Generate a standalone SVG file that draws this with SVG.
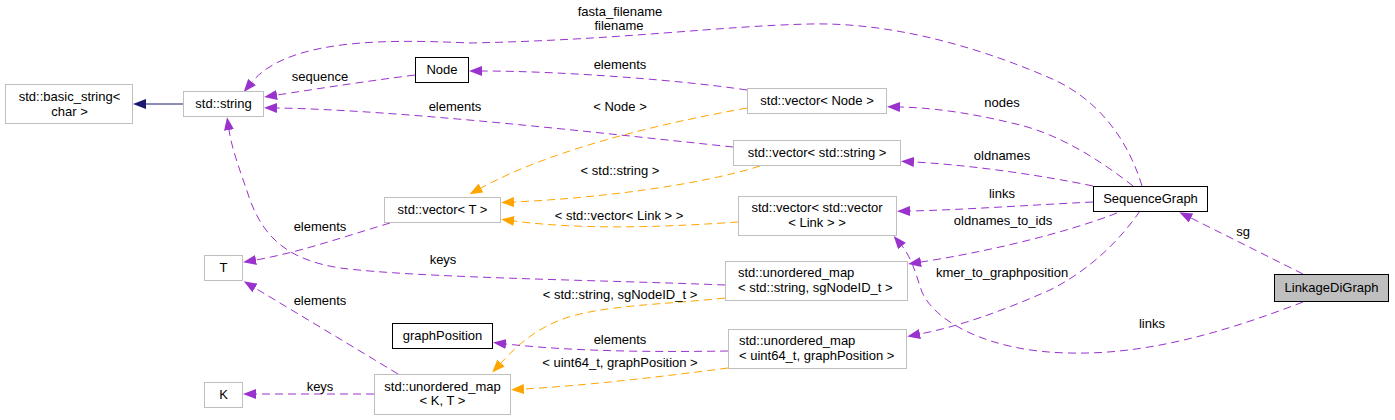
<svg xmlns="http://www.w3.org/2000/svg" width="1395" height="420" viewBox="0 0 1395 420">
<style>
text{font-family:"Liberation Sans",Arial,sans-serif;font-size:13px;fill:#000}
.c{text-anchor:middle}
.l{text-anchor:start}
.g{fill:#fff;stroke:#bfbfbf;stroke-width:1}
.b{fill:#fff;stroke:#000;stroke-width:1}
.h{fill:#bfbfbf;stroke:#000;stroke-width:1}
.e{fill:none;stroke:#9a32cd;stroke-width:1;stroke-dasharray:8,5}
.o{fill:none;stroke:#ffa500;stroke-width:1;stroke-dasharray:8,5}
.n{fill:none;stroke:#191970;stroke-width:1}
</style>
<defs>
<marker id="ap" viewBox="0 0 13 10" refX="0" refY="5" markerWidth="13" markerHeight="10" markerUnits="userSpaceOnUse" orient="auto"><path d="M0,0 L13,5 L0,10 z" fill="#9a32cd"/></marker>
<marker id="ao" viewBox="0 0 13 10" refX="0" refY="5" markerWidth="13" markerHeight="10" markerUnits="userSpaceOnUse" orient="auto"><path d="M0,0 L13,5 L0,10 z" fill="#ffa500"/></marker>
<marker id="an" viewBox="0 0 13 10" refX="0" refY="5" markerWidth="13" markerHeight="10" markerUnits="userSpaceOnUse" orient="auto"><path d="M0,0 L13,5 L0,10 z" fill="#191970"/></marker>
</defs>
<rect width="1395" height="420" fill="#fff"/>
<g id="connectors">
<path class="n" d="M183,104 L146,104" marker-end="url(#an)"/>
<path class="e" d="M415,75 C360,82 310,90 277,95" marker-end="url(#ap)"/>
<text class="c" x="320" y="81">sequence</text>
<path class="e" d="M1142,186 C1125,130 1090,95 1050,78 C990,52 900,22 810,24 C720,26 620,40 470,43 C400,40 290,36 252,82" marker-end="url(#ap)"/>
<text class="c" x="620" y="16">fasta_filename</text>
<text class="c" x="619" y="30">filename</text>
<path class="e" d="M747,90 C680,80 560,71 482,71" marker-end="url(#ap)"/>
<text class="c" x="620" y="69">elements</text>
<path class="e" d="M733,147 C600,133 400,110 277,108" marker-end="url(#ap)"/>
<text class="c" x="455" y="111">elements</text>
<path class="o" d="M747,108 C680,120 560,145 481,188" marker-end="url(#ao)"/>
<text class="c" x="620" y="111">&lt; Node &gt;</text>
<path class="o" d="M760,166 C700,185 600,198 514,202" marker-end="url(#ao)"/>
<text class="c" x="620" y="175">&lt; std::string &gt;</text>
<path class="o" d="M738,222 C680,226 590,231 514,221" marker-end="url(#ao)"/>
<text class="c" x="619" y="220">&lt; std::vector&lt; Link &gt; &gt;</text>
<path class="e" d="M1133,186 C1100,160 1060,135 1020,125 C980,115 940,108 900,107" marker-end="url(#ap)"/>
<text class="c" x="1002" y="107">nodes</text>
<path class="e" d="M1093,186 C1040,175 970,165 914,162" marker-end="url(#ap)"/>
<text class="c" x="1002" y="160">oldnames</text>
<path class="e" d="M1093,202 C1030,205 960,210 910,211" marker-end="url(#ap)"/>
<text class="c" x="1002" y="198">links</text>
<path class="e" d="M1117,213 C1060,235 980,253 921,262" marker-end="url(#ap)"/>
<text class="c" x="1003" y="225">oldnames_to_ids</text>
<path class="e" d="M1140,211 C1120,240 1090,270 1050,290 C1000,312 960,326 920,334" marker-end="url(#ap)"/>
<text class="c" x="1002" y="277">kmer_to_graphposition</text>
<path class="e" d="M1303,274 L1191,218" marker-end="url(#ap)"/>
<text class="c" x="1243" y="236">sg</text>
<path class="e" d="M1303,302 C1230,330 1150,355 1070,353 C990,352 935,322 922,292 C916,275 912,258 902,246" marker-end="url(#ap)"/>
<text class="c" x="1152" y="328">links</text>
<path class="e" d="M390,223 C340,238 300,252 256,260" marker-end="url(#ap)"/>
<text class="c" x="320" y="231">elements</text>
<path class="e" d="M725,285 C600,280 420,278 340,268 C290,260 265,240 250,200 C240,170 232,150 229,130" marker-end="url(#ap)"/>
<text class="c" x="443" y="264">keys</text>
<path class="e" d="M398,374 C350,345 300,315 255,288" marker-end="url(#ap)"/>
<text class="c" x="320" y="305">elements</text>
<path class="e" d="M374,394 L256,394" marker-end="url(#ap)"/>
<text class="c" x="320" y="391">keys</text>
<path class="o" d="M725,298 C660,305 600,305 560,320 C530,332 513,350 501,363" marker-end="url(#ao)"/>
<text class="c" x="620" y="299">&lt; std::string, sgNodeID_t &gt;</text>
<path class="o" d="M728,368 C660,377 580,386 524,389" marker-end="url(#ao)"/>
<text class="c" x="620" y="367">&lt; uint64_t, graphPosition &gt;</text>
<path class="e" d="M728,351 C660,352 580,352 506,344" marker-end="url(#ap)"/>
<text class="c" x="620" y="344">elements</text>
</g>
<g id="n_basic_string"><rect class="g" x="5.5" y="84.5" width="127" height="39"/><text class="c" x="69.5" y="101">std::basic_string&lt;</text><text class="c" x="69.5" y="116">char &gt;</text></g>
<g id="n_string"><rect class="g" x="183.5" y="91.5" width="80" height="25"/><text class="c" x="223.5" y="108">std::string</text></g>
<g id="n_Node"><rect class="b" x="415.5" y="57.5" width="53" height="25"/><text class="c" x="442" y="74">Node</text></g>
<g id="n_vector_Node"><rect class="g" x="747.5" y="88.5" width="139" height="25"/><text class="c" x="817" y="105">std::vector&lt; Node &gt;</text></g>
<g id="n_vector_string"><rect class="g" x="733.5" y="140.5" width="167" height="25"/><text class="c" x="817" y="157">std::vector&lt; std::string &gt;</text></g>
<g id="n_vector_T"><rect class="g" x="384.5" y="197.5" width="116" height="25"/><text class="c" x="442.5" y="214">std::vector&lt; T &gt;</text></g>
<g id="n_vector_vector_Link"><rect class="g" x="738.5" y="196.5" width="158" height="39"/><text class="c" x="817" y="212">std::vector&lt; std::vector</text><text class="c" x="817" y="227">&lt; Link &gt; &gt;</text></g>
<g id="n_umap_string"><rect class="g" x="725.5" y="261.5" width="182" height="39"/><text class="l" x="738" y="277">std::unordered_map</text><text class="l" x="738" y="292">&lt; std::string, sgNodeID_t &gt;</text></g>
<g id="n_umap_uint64"><rect class="g" x="728.5" y="329.5" width="178" height="39"/><text class="l" x="739" y="345">std::unordered_map</text><text class="l" x="739" y="360">&lt; uint64_t, graphPosition &gt;</text></g>
<g id="n_umap_KT"><rect class="g" x="374.5" y="374.5" width="136" height="40"/><text class="c" x="442.5" y="391">std::unordered_map</text><text class="c" x="442.5" y="405">&lt; K, T &gt;</text></g>
<g id="n_graphPosition"><rect class="b" x="392.5" y="323.5" width="100" height="25"/><text class="c" x="442.5" y="340">graphPosition</text></g>
<g id="n_T"><rect class="g" x="204.5" y="255.5" width="38" height="25"/><text class="c" x="223.5" y="272">T</text></g>
<g id="n_K"><rect class="g" x="204.5" y="382.5" width="38" height="25"/><text class="c" x="223.5" y="399">K</text></g>
<g id="n_SequenceGraph"><rect class="b" x="1093.5" y="186.5" width="114" height="25"/><text class="c" x="1150.5" y="203">SequenceGraph</text></g>
<g id="n_LinkageDiGraph"><rect class="h" x="1274.5" y="274.5" width="114" height="27"/><text class="c" x="1331.5" y="292">LinkageDiGraph</text></g>
</svg>
